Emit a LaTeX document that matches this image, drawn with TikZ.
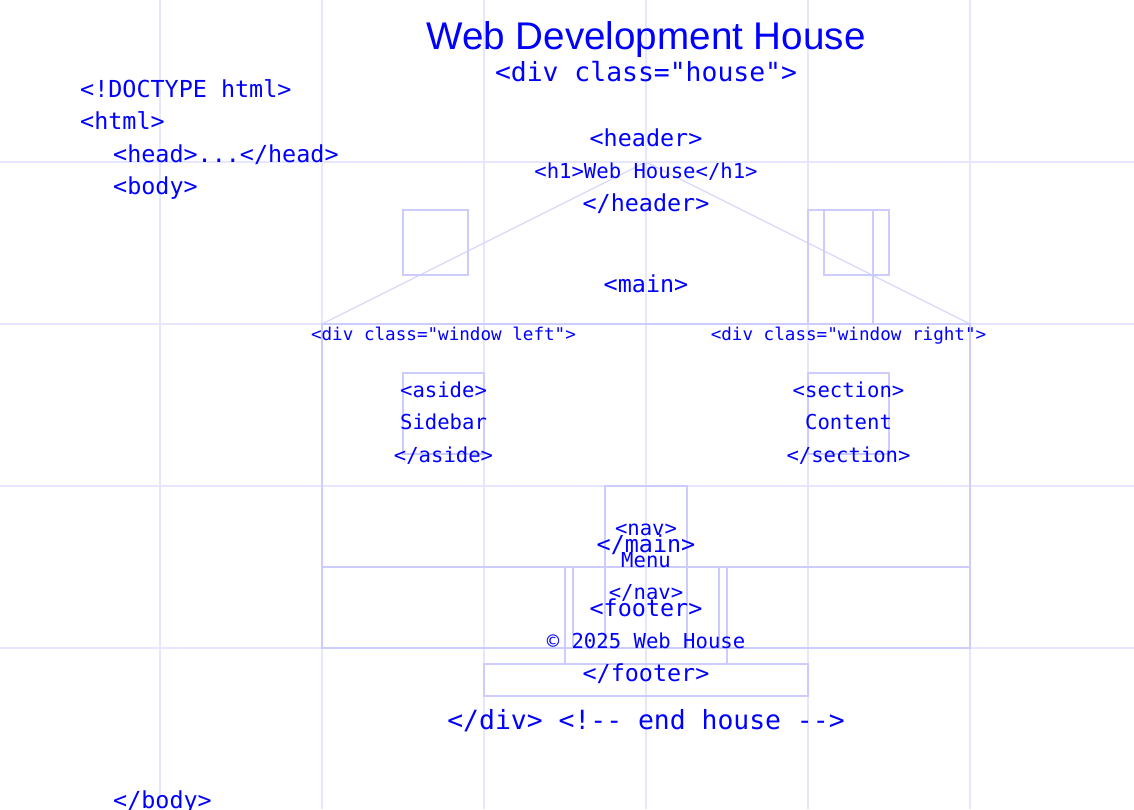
\documentclass[tikz,border=0pt]{standalone}
\usepackage{fontspec}
\setmainfont{Liberation Sans}
\setmonofont{DejaVu Sans Mono}
\usepackage{tikz}
\usetikzlibrary{positioning}
\definecolor{tagblue}{HTML}{0000FF}
\definecolor{gridline}{HTML}{E6E6FF}
\definecolor{wallline}{HTML}{CCCCFF}
\definecolor{roofline}{HTML}{D8D8FF}

\begin{document}
\begin{tikzpicture}[
    x=1pt, y=-1pt,
    every node/.style={text=tagblue, inner sep=0pt, anchor=base},
    housetitle/.style={font=\fontsize{38.6}{44}\selectfont},
    bigtag/.style={font=\ttfamily\fontsize{26.4}{30}\selectfont},
    tag/.style={font=\ttfamily\fontsize{23.4}{28}\selectfont},
    smalltag/.style={font=\ttfamily\fontsize{20.6}{24}\selectfont},
    tinytag/.style={font=\ttfamily\fontsize{17.6}{21}\selectfont},
    gridrule/.style={draw=gridline, line width=1.5pt},
    wall/.style={draw=wallline, line width=1.5pt},
    roof/.style={draw=roofline, line width=1.2pt}
]
    \useasboundingbox (0,0) rectangle (1134,809);

    % Grid
    \foreach \gx in {160,322,484,646,808,970}
        \draw[gridrule] (\gx,0) -- (\gx,809);
    \foreach \gy in {162,324,486,648}
        \draw[gridrule] (0,\gy) -- (1134,\gy);

    % House
    \draw[roof] (322,324) -- (646,162) -- (970,324);
    \draw[wall] (322,324) rectangle (970,648);
    \draw[wall] (322,567) -- (970,567);
    \draw[wall] (403,210) rectangle (468,275);
    \draw[wall] (808,210) rectangle (873,324);
    \draw[wall] (824,210) rectangle (889,275);
    \draw[wall] (403,373) rectangle (484,454);
    \draw[wall] (808,373) rectangle (889,454);
    \draw[wall] (605,486) rectangle (687,648);
    \draw[wall] (565,567) rectangle (727,664);
    \draw[wall] (573,567) rectangle (719,648);
    \draw[wall] (484,664) rectangle (808,696);

    % Page code
    \node[tag, anchor=base west] (doctype) at (80,97) {<!DOCTYPE html>};
    \node[tag, anchor=base west] (html) at (80,129) {<html>};
    \node[tag, anchor=base west] (head) at (113,162) {<head>...</head>};
    \node[tag, anchor=base west] (body) at (113,194) {<body>};
    \node[tag, anchor=base west] (bodyend) at (113,808) {</body>};

    % House labels
    \node[housetitle] (title) at (646,49) {Web Development House};
    \node[bigtag] (house) at (646,81) {<div class="house">};
    \node[tag] (header) at (646,146) {<header>};
    \node[smalltag] (hone) at (646,178) {<h1>Web House</h1>};
    \node[tag] (headerend) at (646,211) {</header>};
    \node[tag] (main) at (646,292) {<main>};
    \node[tinytag] (winleft) at (443.5,340) {<div class="window left">};
    \node[tinytag] (winright) at (848.5,340) {<div class="window right">};
    \node[smalltag] (aside) at (443.5,397) {<aside>};
    \node[smalltag] (sidebar) at (443.5,429) {Sidebar};
    \node[smalltag] (asideend) at (443.5,462) {</aside>};
    \node[smalltag] (section) at (848.5,397) {<section>};
    \node[smalltag] (content) at (848.5,429) {Content};
    \node[smalltag] (sectionend) at (848.5,462) {</section>};
    \node[smalltag] (nav) at (646,535) {<nav>};
    \node[tag] (mainend) at (646,552) {</main>};
    \node[smalltag] (menu) at (646,567) {Menu};
    \node[smalltag] (navend) at (646,599) {</nav>};
    \node[tag] (footer) at (646,616) {<footer>};
    \node[smalltag] (copy) at (646,648) {© 2025 Web House};
    \node[tag] (footerend) at (646,681) {</footer>};
    \node[bigtag] (houseend) at (646,729) {</div> <!-- end house -->};
\end{tikzpicture}
\end{document}
